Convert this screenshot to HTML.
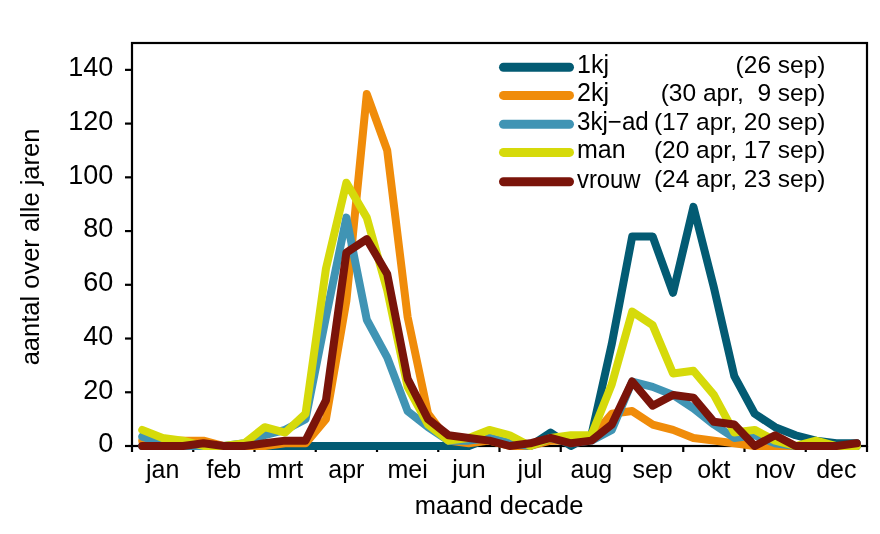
<!DOCTYPE html>
<html><head><meta charset="utf-8">
<style>
html,body{margin:0;padding:0;background:#fff;width:880px;height:534px;overflow:hidden}
svg{display:block;will-change:transform}
text{font-family:"Liberation Sans",sans-serif;fill:#000}
.tl{font-size:27px}
.xl{font-size:25px}
.lt{font-size:25px}
.pt{font-size:24.5px}
.ax{font-size:25.5px}
.series path{fill:none;stroke-width:8;stroke-linecap:round;stroke-linejoin:round}
.lg{stroke-width:9;stroke-linecap:round}
</style></head><body>
<svg width="880" height="534" viewBox="0 0 880 534">
<rect width="880" height="534" fill="#fff"/>
<g stroke="#000" stroke-width="2.2" fill="none">
<rect x="132.0" y="43.0" width="735.0" height="403.0"/>
</g>
<g stroke="#000" stroke-width="2.2">
<line x1="125" y1="446.00" x2="132.0" y2="446.00"/>
<line x1="125" y1="392.27" x2="132.0" y2="392.27"/>
<line x1="125" y1="338.53" x2="132.0" y2="338.53"/>
<line x1="125" y1="284.80" x2="132.0" y2="284.80"/>
<line x1="125" y1="231.07" x2="132.0" y2="231.07"/>
<line x1="125" y1="177.33" x2="132.0" y2="177.33"/>
<line x1="125" y1="123.60" x2="132.0" y2="123.60"/>
<line x1="125" y1="69.87" x2="132.0" y2="69.87"/>
<line x1="132.00" y1="446.0" x2="132.00" y2="452"/>
<line x1="193.25" y1="446.0" x2="193.25" y2="452"/>
<line x1="254.50" y1="446.0" x2="254.50" y2="452"/>
<line x1="315.75" y1="446.0" x2="315.75" y2="452"/>
<line x1="377.00" y1="446.0" x2="377.00" y2="452"/>
<line x1="438.25" y1="446.0" x2="438.25" y2="452"/>
<line x1="499.50" y1="446.0" x2="499.50" y2="452"/>
<line x1="560.75" y1="446.0" x2="560.75" y2="452"/>
<line x1="622.00" y1="446.0" x2="622.00" y2="452"/>
<line x1="683.25" y1="446.0" x2="683.25" y2="452"/>
<line x1="744.50" y1="446.0" x2="744.50" y2="452"/>
<line x1="805.75" y1="446.0" x2="805.75" y2="452"/>
<line x1="867.00" y1="446.0" x2="867.00" y2="452"/>
</g>
<text x="113.2" y="452.30" text-anchor="end" class="tl">0</text>
<text x="113.2" y="398.57" text-anchor="end" class="tl">20</text>
<text x="113.2" y="344.83" text-anchor="end" class="tl">40</text>
<text x="113.2" y="291.10" text-anchor="end" class="tl">60</text>
<text x="113.2" y="237.37" text-anchor="end" class="tl">80</text>
<text x="113.2" y="183.63" text-anchor="end" class="tl">100</text>
<text x="113.2" y="129.90" text-anchor="end" class="tl">120</text>
<text x="113.2" y="76.17" text-anchor="end" class="tl">140</text>
<text x="162.62" y="477.5" text-anchor="middle" class="xl">jan</text>
<text x="223.88" y="477.5" text-anchor="middle" class="xl">feb</text>
<text x="285.12" y="477.5" text-anchor="middle" class="xl">mrt</text>
<text x="346.38" y="477.5" text-anchor="middle" class="xl">apr</text>
<text x="407.62" y="477.5" text-anchor="middle" class="xl">mei</text>
<text x="468.88" y="477.5" text-anchor="middle" class="xl">jun</text>
<text x="530.12" y="477.5" text-anchor="middle" class="xl">jul</text>
<text x="591.38" y="477.5" text-anchor="middle" class="xl">aug</text>
<text x="652.62" y="477.5" text-anchor="middle" class="xl">sep</text>
<text x="713.88" y="477.5" text-anchor="middle" class="xl">okt</text>
<text x="775.12" y="477.5" text-anchor="middle" class="xl">nov</text>
<text x="836.38" y="477.5" text-anchor="middle" class="xl">dec</text>
<g class="series">
<path d="M142.21,446.00 L162.62,446.00 L183.04,446.00 L203.46,446.00 L223.88,446.00 L244.29,446.00 L264.71,446.00 L285.12,446.00 L305.54,446.00 L325.96,446.00 L346.38,446.00 L366.79,446.00 L387.21,446.00 L407.62,446.00 L428.04,446.00 L448.46,446.00 L468.88,446.00 L489.29,437.94 L509.71,443.31 L530.12,446.00 L550.54,432.57 L570.96,446.00 L591.38,435.25 L611.79,343.91 L632.21,236.44 L652.62,236.44 L673.04,292.86 L693.46,206.89 L713.88,287.49 L734.29,376.15 L754.71,413.76 L775.12,427.19 L795.54,435.25 L815.96,440.63 L836.38,443.31 L856.79,443.31" stroke="#035b73"/>
<path d="M142.21,440.63 L162.62,440.63 L183.04,440.63 L203.46,440.63 L223.88,446.00 L244.29,446.00 L264.71,446.00 L285.12,443.31 L305.54,443.31 L325.96,419.13 L346.38,300.92 L366.79,94.05 L387.21,150.47 L407.62,317.04 L428.04,413.76 L448.46,440.63 L468.88,443.31 L489.29,440.63 L509.71,446.00 L530.12,446.00 L550.54,440.63 L570.96,440.63 L591.38,437.94 L611.79,413.76 L632.21,411.07 L652.62,424.51 L673.04,429.88 L693.46,437.94 L713.88,440.63 L734.29,443.31 L754.71,446.00 L775.12,446.00 L795.54,446.00 L815.96,446.00 L836.38,446.00 L856.79,446.00" stroke="#f08c0a"/>
<path d="M142.21,436.60 L162.62,443.31 L183.04,446.00 L203.46,446.00 L223.88,446.00 L244.29,443.31 L264.71,435.25 L285.12,429.88 L305.54,419.13 L325.96,317.04 L346.38,217.63 L366.79,319.73 L387.21,357.34 L407.62,411.07 L428.04,427.19 L448.46,440.63 L468.88,440.63 L489.29,437.94 L509.71,443.31 L530.12,446.00 L550.54,437.94 L570.96,443.31 L591.38,440.63 L611.79,429.88 L632.21,381.52 L652.62,386.89 L673.04,394.95 L693.46,408.39 L713.88,424.51 L734.29,437.94 L754.71,435.25 L775.12,443.31 L795.54,446.00 L815.96,446.00 L836.38,446.00 L856.79,446.00" stroke="#4094b4"/>
<path d="M142.21,429.88 L162.62,437.94 L183.04,440.63 L203.46,446.00 L223.88,446.00 L244.29,443.31 L264.71,427.19 L285.12,432.57 L305.54,413.76 L325.96,268.68 L346.38,182.71 L366.79,217.63 L387.21,290.17 L407.62,386.89 L428.04,424.51 L448.46,440.63 L468.88,437.94 L489.29,429.88 L509.71,435.25 L530.12,446.00 L550.54,437.94 L570.96,435.25 L591.38,435.25 L611.79,384.21 L632.21,311.67 L652.62,325.10 L673.04,373.46 L693.46,370.77 L713.88,394.95 L734.29,432.57 L754.71,429.88 L775.12,440.63 L795.54,446.00 L815.96,440.63 L836.38,446.00 L856.79,446.00" stroke="#d6da0a"/>
<path d="M142.21,446.00 L162.62,446.00 L183.04,446.00 L203.46,443.31 L223.88,446.00 L244.29,446.00 L264.71,443.31 L285.12,440.63 L305.54,440.63 L325.96,400.33 L346.38,252.56 L366.79,239.13 L387.21,274.05 L407.62,378.83 L428.04,419.13 L448.46,435.25 L468.88,437.94 L489.29,440.63 L509.71,446.00 L530.12,443.31 L550.54,437.94 L570.96,443.31 L591.38,440.63 L611.79,424.51 L632.21,381.52 L652.62,405.70 L673.04,394.95 L693.46,397.64 L713.88,421.82 L734.29,424.51 L754.71,446.00 L775.12,435.25 L795.54,446.00 L815.96,446.00 L836.38,446.00 L856.79,443.31" stroke="#7a140a"/>
</g>
<line x1="503.5" y1="67.3" x2="569.5" y2="67.3" stroke="#035b73" class="lg"/>
<text x="577" y="73.1" class="lt">1kj</text>
<text x="825.5" y="72.9" text-anchor="end" class="pt" xml:space="preserve">(26 sep)</text>
<line x1="503.5" y1="95.4" x2="569.5" y2="95.4" stroke="#f08c0a" class="lg"/>
<text x="577" y="101.2" class="lt">2kj</text>
<text x="825.5" y="101.0" text-anchor="end" class="pt" xml:space="preserve">(30 apr,  9 sep)</text>
<line x1="503.5" y1="124.3" x2="569.5" y2="124.3" stroke="#4094b4" class="lg"/>
<text x="577" y="130.1" class="lt" transform="matrix(0.965,0,0,1,20.195,0)">3kj−ad</text>
<text x="825.5" y="129.9" text-anchor="end" class="pt" xml:space="preserve">(17 apr, 20 sep)</text>
<line x1="503.5" y1="152.4" x2="569.5" y2="152.4" stroke="#d6da0a" class="lg"/>
<text x="577" y="158.2" class="lt">man</text>
<text x="825.5" y="158.0" text-anchor="end" class="pt" xml:space="preserve">(20 apr, 17 sep)</text>
<line x1="503.5" y1="181.8" x2="569.5" y2="181.8" stroke="#7a140a" class="lg"/>
<text x="577" y="187.6" class="lt" transform="matrix(0.954,0,0,1,26.542,0)">vrouw</text>
<text x="825.5" y="187.4" text-anchor="end" class="pt" xml:space="preserve">(24 apr, 23 sep)</text>
<text x="499" y="514" text-anchor="middle" class="ax">maand decade</text>
<text transform="translate(39,247) rotate(-90)" text-anchor="middle" class="ax">aantal over alle jaren</text>
</svg>
</body></html>
